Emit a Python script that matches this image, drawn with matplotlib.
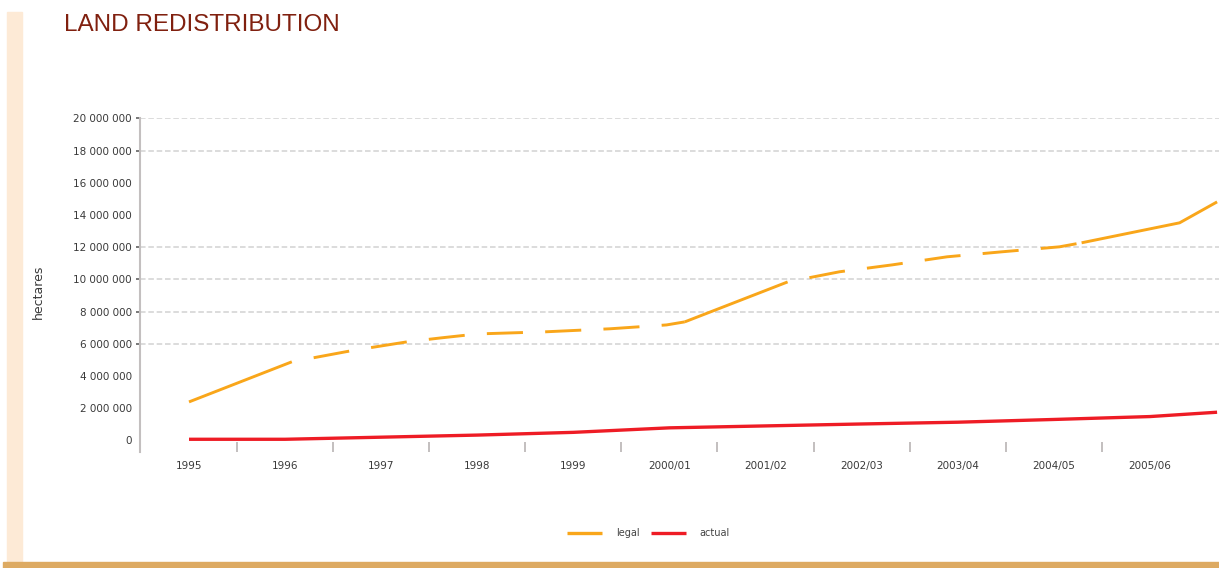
import numpy as np
import matplotlib.pyplot as plt
from matplotlib.patches import Rectangle
from matplotlib.lines import Line2D
from matplotlib.ticker import FuncFormatter

plt.rcParams['lines.scale_dashes'] = False

# categories on the x axis
seasons = ['1995', '1996', '1997', '1998', '1999', '2000/01', '2001/02',
           '2002/03', '2003/04', '2004/05', '2005/06']

# legal line (x in category units, y in million ha)
legal_pos = [0.0, 1.07, 1.70, 2.27, 2.63, 3.00, 3.70, 4.38, 4.97, 5.16,
             6.23, 6.77, 7.32, 7.89, 8.46, 9.06, 9.29, 10.31, 10.70]
legal_mha = [2.39, 4.88, 5.58, 6.12, 6.37, 6.61, 6.74, 6.93, 7.17, 7.36,
             9.84, 10.47, 10.90, 11.40, 11.71, 12.02, 12.27, 13.51, 14.81]
# segments of the legal line that print unbroken in the source
legal_solid = {0, 9, 16, 17}

# actual line
actual_pos = [0, 1, 2, 3, 4, 5, 6, 7, 8, 9, 10, 10.70]
actual_mha = [0.07, 0.07, 0.20, 0.33, 0.50, 0.78, 0.90, 1.02, 1.13, 1.30, 1.48, 1.75]

# y levels that carry a dotted grid line
grid_levels = [6, 8, 10, 12, 18, 20]

orange = '#f9a61a'
red = '#ee1c25'
grey = '#c3bfbf'
txt = '#3a3a3a'

W, H = 1219, 568
fig = plt.figure(figsize=(W / 100, H / 100), dpi=100)
ax = fig.add_axes([140 / W, 1 - 452 / H, 1 - 140 / W, (452 - 118.3) / H])

# legal line: alternate solid and broken runs
lx = np.array(legal_pos)
ly = np.array(legal_mha) * 1e6
runs = []
start = 0
for i in range(1, len(lx) - 1):
    if (i in legal_solid) != ((i - 1) in legal_solid):
        runs.append((start, i))
        start = i
runs.append((start, len(lx) - 1))
for a, b in runs:
    if a in legal_solid:
        ls = '-'
    else:
        ls = (26, (26, 16))
    ax.plot(lx[a:b + 1], ly[a:b + 1], color=orange, lw=2.1, ls=ls,
            solid_capstyle='butt', dash_capstyle='butt', zorder=3)

ax.plot(actual_pos, np.array(actual_mha) * 1e6, color=red, lw=2.4,
        solid_capstyle='butt', zorder=4)

ax.set_xlim(-0.51, 10.72)
ax.set_ylim(-0.72e6, 20e6)

# labels on every level, grid and tick marks only on some
ax.yaxis.remove_overlapping_locs = False
ax.set_yticks(np.arange(0, 20.1e6, 2e6))
ax.yaxis.set_major_formatter(FuncFormatter(lambda v, p: f'{int(round(v)):,}'.replace(',', ' ')))
ax.set_yticks(np.array(grid_levels) * 1e6, minor=True)
ax.set_xticks(range(len(seasons)))
ax.set_xticklabels(seasons)
ax.set_xticks(np.arange(0.5, len(seasons) - 1, 1), minor=True)

ax.tick_params(axis='x', which='major', length=0, pad=6.5, labelsize=7.5, labelcolor=txt)
ax.tick_params(axis='x', which='minor', direction='in', length=7.2, width=1.4, color=grey)
ax.tick_params(axis='y', which='major', length=0, pad=6, labelsize=7.5, labelcolor=txt)
ax.tick_params(axis='y', which='minor', length=3, width=1.4, color='#777777')

ax.yaxis.grid(True, which='minor', color='#d9d9d9', lw=1.3, ls=(0, (4, 2)))
ax.yaxis.grid(False, which='major')

for s in ['top', 'right', 'bottom']:
    ax.spines[s].set_visible(False)
ax.spines['left'].set_color(grey)
ax.spines['left'].set_linewidth(1.5)

fig.text(38 / W, 1 - 292 / H, 'hectares', rotation=90, ha='center', va='center',
         fontsize=9, color=txt)

fig.text(64 / W, 1 - 31 / H, 'LAND REDISTRIBUTION', fontsize=17.5, color='#80200f',
         family=['Liberation Sans', 'DejaVu Sans'], va='baseline')

# page decoration
fig.patches.append(Rectangle((7 / W, 6 / H), 15 / W, 550 / H, transform=fig.transFigure,
                             color='#fdead6', zorder=0))
fig.patches.append(Rectangle((3 / W, 0), 1, 6 / H, transform=fig.transFigure,
                             color='#ddaa62', zorder=0))

handles = [Line2D([], [], color=orange, lw=2.4, solid_capstyle='butt'),
           Line2D([], [], color=red, lw=2.4, solid_capstyle='butt')]
leg = fig.legend(handles, ['legal', 'actual'], loc='center',
                 bbox_to_anchor=(648.5 / W, 1 - 533 / H), ncol=2, frameon=False,
                 fontsize=7, handlelength=3.6, handletextpad=1.45, columnspacing=1.1)
for t in leg.get_texts():
    t.set_color('#444444')

fig.savefig('out.png', dpi=100)
